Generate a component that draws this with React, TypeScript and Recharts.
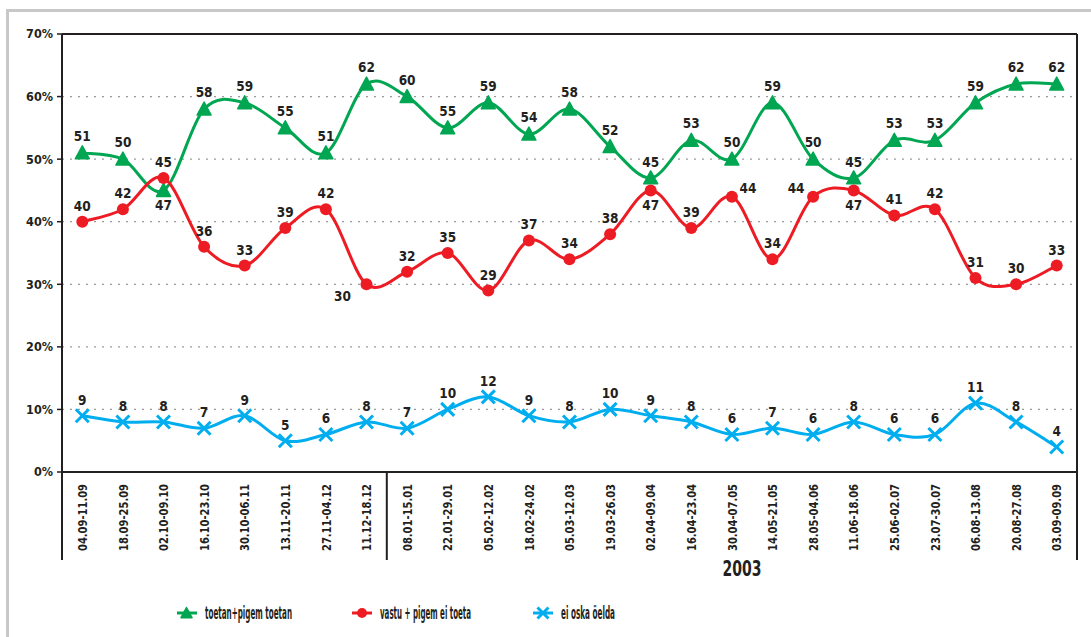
import { LineChart, Line, XAxis, YAxis, CartesianGrid, LabelList } from 'recharts'

// weekly survey, Sep 2002 – Sep 2003
const categories = [
  '04.09-11.09', '18.09-25.09', '02.10-09.10', '16.10-23.10', '30.10-06.11', '13.11-20.11',
  '27.11-04.12', '11.12-18.12', '08.01-15.01', '22.01-29.01', '05.02-12.02', '18.02-24.02',
  '05.03-12.03', '19.03-26.03', '02.04-09.04', '16.04-23.04', '30.04-07.05', '14.05-21.05',
  '28.05-04.06', '11.06-18.06', '25.06-02.07', '23.07-30.07', '06.08-13.08', '20.08-27.08',
  '03.09-09.09',
]
const support = [51, 50, 45, 58, 59, 55, 51, 62, 60, 55, 59, 54, 58, 52, 47, 53, 50, 59, 50, 47, 53, 53, 59, 62, 62]
const against = [40, 42, 47, 36, 33, 39, 42, 30, 32, 35, 29, 37, 34, 38, 45, 39, 44, 34, 44, 45, 41, 42, 31, 30, 33]
const unsure = [9, 8, 8, 7, 9, 5, 6, 8, 7, 10, 12, 9, 8, 10, 9, 8, 6, 7, 6, 8, 6, 6, 11, 8, 4]
const yTicks = [0, 10, 20, 30, 40, 50, 60, 70]

// where the two top lines meet, the labels were moved: one above the pair, one below
const crossIdx = [2, 14, 19]
const crossTopText = [45, 45, 45]
const crossBottomText = [47, 47, 47]

const seriesNames = ['toetan+pigem toetan', 'vastu + pigem ei toeta', 'ei oska öelda']
const yearLabel = '2003'
const yearStart = 8

const GREEN = '#00a651'
const RED = '#ed1c24'
const BLUE = '#00aeef'
const INK = '#231f20'
const FONT = '"Liberation Sans Narrow", "Arial Narrow", "DejaVu Sans Condensed", sans-serif'

const W = 1091
const H = 637
const M = { top: 33, right: 13, left: 12, bottom: 65 }
const Y_W = 50
const BAND = (W - M.left - M.right - Y_W - 1) / categories.length

const data = categories.map((c, i) => {
  const k = crossIdx.indexOf(i)
  return {
    cat: c,
    support: support[i],
    against: against[i],
    unsure: unsure[i],
    topPos: k >= 0 ? Math.max(support[i], against[i]) : null,
    topText: k >= 0 ? crossTopText[k] : null,
    botPos: k >= 0 ? Math.min(support[i], against[i]) : null,
    botText: k >= 0 ? crossBottomText[k] : null,
  }
})

// Excel-like smoothing (Catmull-Rom through every point)
const smooth: any = (ctx: any) => {
  let pts: number[][] = []
  return {
    areaStart() {},
    areaEnd() {},
    lineStart() { pts = [] },
    point(x: number, y: number) { pts.push([+x, +y]) },
    lineEnd() {
      const n = pts.length
      if (!n) return
      ctx.moveTo(pts[0][0], pts[0][1])
      for (let i = 0; i < n - 1; i++) {
        const p0 = pts[Math.max(i - 1, 0)]
        const p1 = pts[i]
        const p2 = pts[i + 1]
        const p3 = pts[Math.min(i + 2, n - 1)]
        ctx.bezierCurveTo(
          p1[0] + (p2[0] - p0[0]) / 6, p1[1] + (p2[1] - p0[1]) / 6,
          p2[0] - (p3[0] - p1[0]) / 6, p2[1] - (p3[1] - p1[1]) / 6,
          p2[0], p2[1],
        )
      }
    },
  }
}

const textStyle = { fontFamily: FONT, fontWeight: 700, fill: INK }

const Triangle = ({ cx, cy, s = 7 }: any) =>
  cx == null || cy == null ? null : (
    <polygon
      points={`${cx},${cy - s} ${cx - s},${cy + s * 0.85} ${cx + s},${cy + s * 0.85}`}
      fill={GREEN} stroke={GREEN} strokeWidth={1.5} strokeLinejoin="round"
    />
  )
const Dot = ({ cx, cy, r = 6 }: any) =>
  cx == null || cy == null ? null : <circle cx={cx} cy={cy} r={r} fill={RED} />
const Cross = ({ cx, cy, s = 6.5 }: any) =>
  cx == null || cy == null ? null : (
    <g stroke={BLUE} strokeWidth={3}>
      <line x1={cx - s} y1={cy - s} x2={cx + s} y2={cy + s} />
      <line x1={cx - s} y1={cy + s} x2={cx + s} y2={cy - s} />
    </g>
  )

const makeLabel = (dyDefault: number, moved: Record<number, number[]> = {}, skip: number[] = []) =>
  (p: any) => {
    const { x, y, value, index } = p
    if (value == null || x == null || y == null || skip.includes(index)) return null
    const o = moved[index]
    return (
      <text x={x + (o ? o[0] : 0)} y={y + (o ? o[1] : dyDefault)} textAnchor="middle" fontSize={13.5} style={textStyle}>
        {value}
      </text>
    )
  }

const XTick = (p: any) => {
  const { x, y, payload } = p
  const i = payload.index
  const ty = y + 12
  const sep = i === 0 ? x - BAND / 2 : i === yearStart - 1 || i === categories.length - 1 ? x + BAND / 2 : null
  const mid = Math.round((yearStart + categories.length - 1) / 2)
  return (
    <g>
      <text
        transform={`rotate(-90 ${x} ${ty})`} x={x} y={ty} dy="0.36em" textAnchor="end"
        fontSize={13} style={textStyle} textLength={67} lengthAdjust="spacingAndGlyphs"
      >
        {payload.value}
      </text>
      {sep != null && <line x1={sep} x2={sep} y1={y} y2={y + 88} stroke={INK} strokeWidth={2} />}
      {i === mid && (
        <text x={x + 10} y={y + 104} textAnchor="middle" fontSize={21} style={textStyle} textLength={39} lengthAdjust="spacingAndGlyphs">
          {yearLabel}
        </text>
      )}
    </g>
  )
}

export default function App() {
  const legend = [
    { name: seriesNames[0], x: 177, len: 87, mark: <Triangle cx={186.5} cy={20} s={5.5} />, color: GREEN },
    { name: seriesNames[1], x: 352, len: 91, mark: <Dot cx={362} cy={20} r={5} />, color: RED },
    { name: seriesNames[2], x: 533, len: 54, mark: <Cross cx={543} cy={20} s={5.5} />, color: BLUE },
  ]
  return (
    <div style={{ position: 'relative', width: W, height: H, overflow: 'hidden', background: '#fff' }}>
      <style>{'body{margin:0;overflow:hidden}'}</style>
      <div style={{ position: 'absolute', left: 6, top: 9, width: 1200, height: 800, border: '3px solid #c8c8c8' }} />
      <div style={{ position: 'absolute', left: 0, top: 0 }}>
        <LineChart width={W} height={H} data={data} margin={M}>
          <CartesianGrid vertical={false} stroke="#9a9a9a" strokeDasharray="2 6" strokeWidth={1.3} />
          <XAxis
            dataKey="cat" interval={0} height={100} tickSize={0} tickMargin={0} tickLine={false}
            padding={{ left: BAND / 2, right: BAND / 2 }}
            axisLine={{ stroke: INK, strokeWidth: 2 }} tick={<XTick />}
          />
          <XAxis
            xAxisId="top" orientation="top" dataKey="cat" height={1} tick={false} tickLine={false}
            padding={{ left: BAND / 2, right: BAND / 2 }}
            axisLine={{ stroke: INK, strokeWidth: 2 }}
          />
          <YAxis
            width={Y_W} domain={[0, 70]} ticks={yTicks} interval={0} tickSize={5} tickMargin={4}
            tickFormatter={(v: number) => `${v}%`}
            tick={{ ...textStyle, fontSize: 12.5 }}
            tickLine={{ stroke: INK, strokeWidth: 1.5 }}
            axisLine={{ stroke: INK, strokeWidth: 2 }}
          />
          <YAxis
            yAxisId="right" orientation="right" width={1} domain={[0, 70]} tick={false} tickLine={false}
            axisLine={{ stroke: INK, strokeWidth: 2 }}
          />
          <Line
            dataKey="support" type={smooth} stroke={GREEN} strokeWidth={3}
            dot={(p: any) => <Triangle key={p.index} cx={p.cx} cy={p.cy} />} activeDot={false}
            isAnimationActive={false}
          >
            <LabelList dataKey="support" content={makeLabel(-12, {}, crossIdx)} />
          </Line>
          <Line
            dataKey="against" type={smooth} stroke={RED} strokeWidth={3}
            dot={(p: any) => <Dot key={p.index} cx={p.cx} cy={p.cy} />} activeDot={false}
            isAnimationActive={false}
          >
            <LabelList
              dataKey="against"
              content={makeLabel(-11, { 7: [-24, 16.5], 16: [16, -3.5], 18: [-17, -3.5] }, crossIdx)}
            />
          </Line>
          <Line
            dataKey="unsure" type={smooth} stroke={BLUE} strokeWidth={3}
            dot={(p: any) => <Cross key={p.index} cx={p.cx} cy={p.cy} />} activeDot={false}
            isAnimationActive={false}
          >
            <LabelList dataKey="unsure" content={makeLabel(-11)} />
          </Line>
          <Line dataKey="topPos" stroke="none" dot={false} activeDot={false} legendType="none" isAnimationActive={false}>
            <LabelList dataKey="topText" content={makeLabel(-11)} />
          </Line>
          <Line dataKey="botPos" stroke="none" dot={false} activeDot={false} legendType="none" isAnimationActive={false}>
            <LabelList dataKey="botText" content={makeLabel(20)} />
          </Line>
        </LineChart>
      </div>
      <svg width={W} height={40} style={{ position: 'absolute', left: 0, top: 593 }}>
        {legend.map((l) => (
          <g key={l.name}>
            <line x1={l.x} x2={l.x + 20} y1={20} y2={20} stroke={l.color} strokeWidth={3} />
            {l.mark}
            <text
              transform={`translate(${l.x + 28} 25.5) scale(1 1.3)`} fontSize={13} style={textStyle}
              textLength={l.len} lengthAdjust="spacingAndGlyphs"
            >
              {l.name}
            </text>
          </g>
        ))}
      </svg>
    </div>
  )
}
